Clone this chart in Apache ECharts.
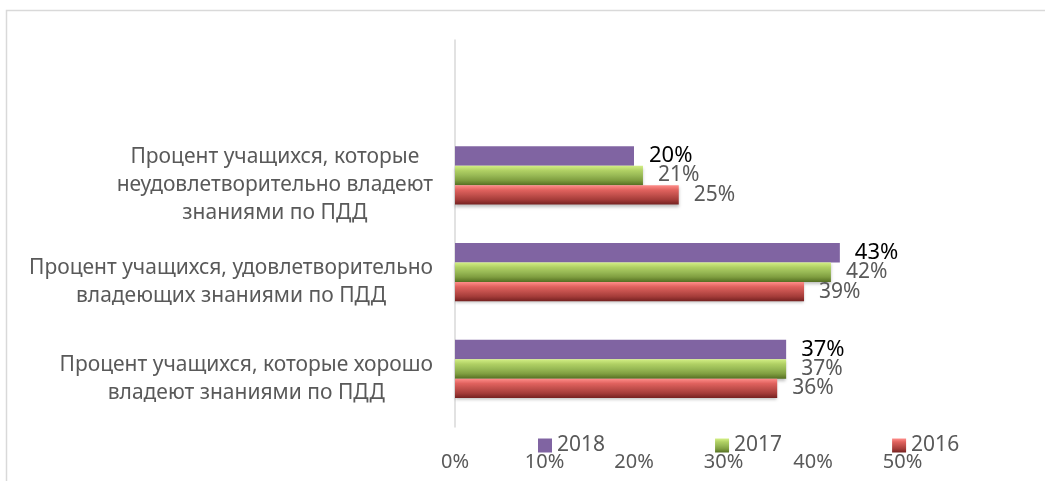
<!DOCTYPE html>
<html>
<head>
<meta charset="utf-8">
<script src="https://cdn.jsdelivr.net/npm/echarts@6/dist/echarts.min.js"></script>
<style>
  html, body { margin: 0; padding: 0; background: #fff; }
  #chart { width: 1045px; height: 481px; }
</style>
</head>
<body>
<div id="chart"></div>
<script>
// categories, bottom to top (the top slot is empty in the original)
const categories = [
  "Процент учащихся, которые хорошо\nвладеют знаниями по ПДД",
  "Процент учащихся, удовлетворительно\nвладеющих знаниями по ПДД",
  "Процент учащихся, которые\nнеудовлетворительно владеют\nзнаниями по ПДД",
  "",
];
const values2018 = [37, 43, 20, null];
const values2017 = [37, 42, 21, null];
const values2016 = [36, 39, 25, null];
const xTicks = { min: 0, max: 50, interval: 10 };

const FONT = "Noto Sans";
const GRAY = "#595959";

const chart = echarts.init(document.getElementById("chart"));

const bevel = (stops) =>
  new echarts.graphic.LinearGradient(0, 0, 0, 1, stops.map((c, i) => ({ offset: i / (stops.length - 1), color: c })));

const greenFill = bevel(["#d3ef85", "#b0d064", "#98b955", "#7f9e40", "#556f22"]);
const redFill = bevel(["#ff8e8b", "#e0625e", "#c2504c", "#a43c39", "#742120"]);

const barLabel = (color, size) => ({
  show: true,
  position: "right",
  distance: 15,
  formatter: "{c}%",
  color,
  fontSize: size,
  fontFamily: FONT,
});

const shadow = { shadowColor: "rgba(0,0,0,0.25)", shadowBlur: 3, shadowOffsetY: 2 };

const option = {
  animation: false,
  textStyle: { fontFamily: FONT },
  graphic: [
    {
      type: "rect",
      shape: { x: 6.5, y: 10.5, width: 1200, height: 600 },
      style: { fill: null, stroke: "#d9d9d9", lineWidth: 1.5 },
      silent: true,
    },
  ],
  legend: {
    data: ["2018", "2017", "2016"],
    left: 538,
    top: 435,
    padding: 0,
    itemWidth: 14,
    itemHeight: 14,
    itemGap: 110,
    icon: "rect",
    textStyle: { color: GRAY, fontSize: 21, fontFamily: FONT },
  },
  grid: { left: 455, right: 142.5, top: 40, bottom: 54, containLabel: false },
  xAxis: {
    type: "value",
    min: xTicks.min,
    max: xTicks.max,
    interval: xTicks.interval,
    axisLine: { show: false },
    axisTick: { show: false },
    splitLine: { show: false },
    axisLabel: { formatter: "{value}%", color: GRAY, fontSize: 20, margin: 25, fontFamily: FONT },
  },
  yAxis: {
    type: "category",
    data: categories,
    axisLine: { lineStyle: { color: "#d9d9d9", width: 1.5 } },
    axisTick: { length: 7, lineStyle: { color: "#d9d9d9", width: 1.5 } },
    axisLabel: {
      margin: 22,
      color: GRAY,
      fontSize: 21,
      lineHeight: 28,
      formatter: (v) => v.split("\n").map((l) => "{c|" + l + "}").join("\n"),
      rich: { c: { align: "center", fontSize: 21, lineHeight: 28, color: GRAY, fontFamily: FONT } },
    },
  },
  series: [
    {
      name: "2018",
      type: "bar",
      barGap: 0,
      barCategoryGap: "19.5%",
      data: values2018,
      itemStyle: { color: "#8064a2" },
      label: barLabel("#000000", 22),
    },
    {
      name: "2017",
      type: "bar",
      data: values2017,
      itemStyle: Object.assign({ color: greenFill }, shadow),
      label: barLabel(GRAY, 21),
    },
    {
      name: "2016",
      type: "bar",
      data: values2016,
      itemStyle: Object.assign({ color: redFill }, shadow),
      label: barLabel(GRAY, 21),
    },
    {
      // empty series slot, keeps the bar groups shifted up like the original
      name: "",
      type: "bar",
      data: [],
    },
  ],
};

chart.setOption(option);
</script>
</body>
</html>
